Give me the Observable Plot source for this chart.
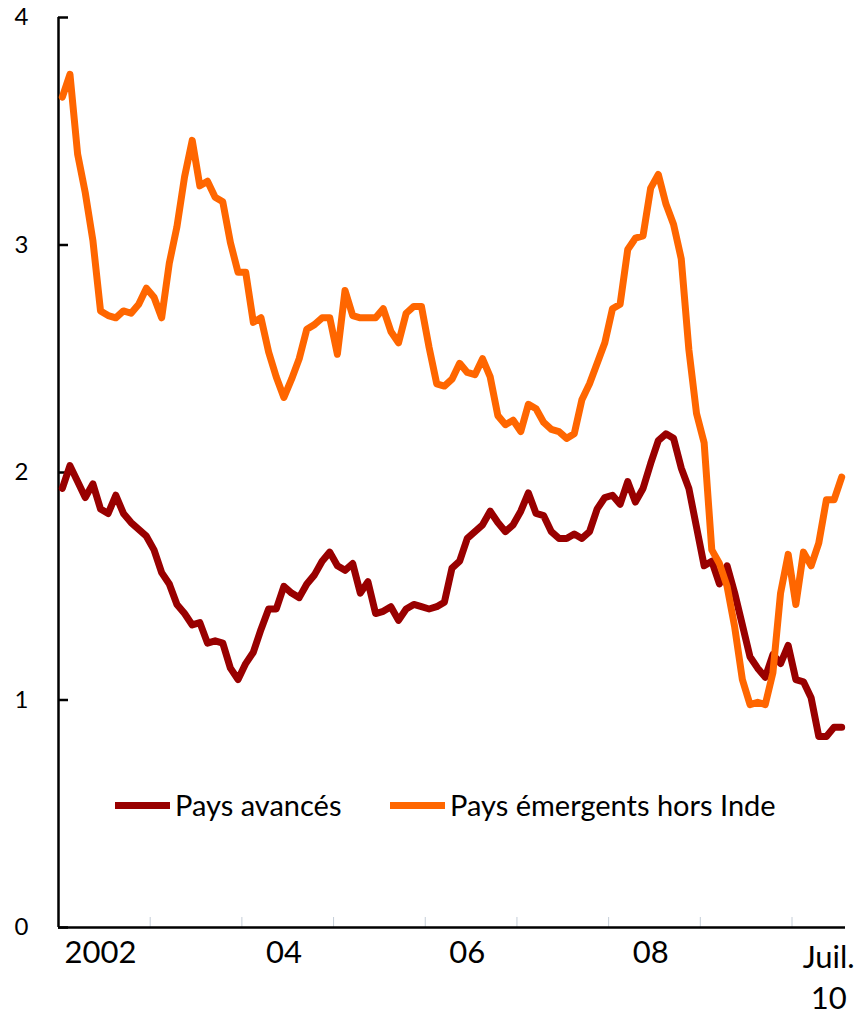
<!DOCTYPE html>
<html>
<head>
<meta charset="utf-8">
<script src="https://cdn.jsdelivr.net/npm/d3@7"></script>
<script src="https://cdn.jsdelivr.net/npm/@observablehq/plot@0.6"></script>
<style>
  html, body { margin: 0; padding: 0; background: #fff; }
  #wrap { position: relative; width: 861px; height: 1015px; font-family: Lato, "Open Sans", sans-serif; }
  #legend { position: absolute; left: 0; top: 0; width: 861px; height: 1015px; pointer-events: none; }
  .item { position: absolute; top: 787px; display: flex; align-items: center; font-size: 29px; line-height: 36px; color: #000; white-space: nowrap; }
  .swatch { display: inline-block; width: 55px; height: 7px; margin-right: 5px; }
</style>
</head>
<body>
<div id="wrap"><div id="legend"></div></div>
<script>
// Monthly series, Jan 2002 – Jul 2010 (103 months)
const startYear = 2002;
const seriesNames = ["Pays avancés", "Pays émergents hors Inde"];
const seriesColors = ["#990000", "#ff6600"];

const paysAvances = [
  1.93, 2.03, 1.96, 1.89, 1.95, 1.84, 1.82, 1.90, 1.82, 1.78, 1.75, 1.72,
  1.66, 1.56, 1.51, 1.42, 1.38, 1.33, 1.34, 1.25, 1.26, 1.25, 1.14, 1.09,
  1.16, 1.21, 1.31, 1.40, 1.40, 1.50, 1.47, 1.45, 1.51, 1.55, 1.61, 1.65,
  1.59, 1.57, 1.60, 1.47, 1.52, 1.38, 1.39, 1.41, 1.35, 1.40, 1.42, 1.41,
  1.40, 1.41, 1.43, 1.58, 1.61, 1.71, 1.74, 1.77, 1.83, 1.78, 1.74, 1.77,
  1.83, 1.91, 1.82, 1.81, 1.74, 1.71, 1.71, 1.73, 1.71, 1.74, 1.84, 1.89,
  1.90, 1.86, 1.96, 1.87, 1.93, 2.04, 2.14, 2.17, 2.15, 2.02, 1.93, 1.76,
  1.59, 1.61, 1.51, 1.59, 1.47, 1.33, 1.19, 1.14, 1.10, 1.20, 1.16, 1.24,
  1.09, 1.08, 1.01, 0.84, 0.84, 0.88, 0.88
];
const paysEmergents = [
  3.65, 3.75, 3.40, 3.23, 3.02, 2.71, 2.69, 2.68, 2.71, 2.70, 2.74, 2.81,
  2.77, 2.68, 2.92, 3.08, 3.30, 3.46, 3.26, 3.28, 3.21, 3.19, 3.01, 2.88,
  2.88, 2.66, 2.68, 2.53, 2.42, 2.33, 2.41, 2.50, 2.63, 2.65, 2.68, 2.68,
  2.52, 2.80, 2.69, 2.68, 2.68, 2.68, 2.72, 2.62, 2.57, 2.70, 2.73, 2.73,
  2.55, 2.39, 2.38, 2.41, 2.48, 2.44, 2.43, 2.50, 2.42, 2.25, 2.21, 2.23,
  2.18, 2.30, 2.28, 2.22, 2.19, 2.18, 2.15, 2.17, 2.32, 2.39, 2.48, 2.57,
  2.72, 2.74, 2.98, 3.03, 3.04, 3.25, 3.31, 3.18, 3.09, 2.94, 2.54, 2.26,
  2.13, 1.66, 1.60, 1.50, 1.32, 1.09, 0.98, 0.99, 0.98, 1.12, 1.47, 1.64,
  1.42, 1.65, 1.59, 1.69, 1.88, 1.88, 1.98
];
const yTicks = [0, 1, 2, 3, 4];
const xLabelMonths = [5, 29, 53, 77];           // month indices carrying a year label
const xLabels = ["2002", "04", "06", "08"];
const lastLabelMonth = 102;
const lastLabel = "Juil.\n10";
const yearBoundaries = [2003, 2004, 2005, 2006, 2007, 2008, 2009, 2010];

const nMonths = paysAvances.length;
const monthPos = i => startYear + (i + 0.5) / 12;

const rows = [];
[paysAvances, paysEmergents].forEach((vals, s) => {
  vals.forEach((v, i) => rows.push({series: seriesNames[s], x: monthPos(i), y: v}));
});

const chart = Plot.plot({
  width: 861,
  height: 1015,
  marginLeft: 58,
  marginRight: 16,
  marginTop: 17,
  marginBottom: 88,
  style: {fontFamily: "Lato, 'Open Sans', sans-serif", color: "#000", background: "#fff"},
  x: {domain: [startYear, startYear + nMonths / 12], label: null},
  y: {domain: [0, 4], label: null},
  color: {domain: seriesNames, range: seriesColors},
  marks: [
    // minor year-boundary ticks
    Plot.axisX({ticks: yearBoundaries, tickSize: -10, tickFormat: () => "", stroke: "#c5ced8", strokeWidth: 1, label: null}),
    // category labels
    Plot.axisX({ticks: xLabelMonths.map(monthPos), tickSize: 0, tickPadding: 13,
      tickFormat: (d, i) => xLabels[i], fontSize: 31, label: null}),
    Plot.axisX({ticks: [monthPos(lastLabelMonth)], tickSize: 0, tickPadding: 11, dx: -13,
      tickFormat: () => lastLabel, fontSize: 31, lineHeight: 1.33, label: null}),
    Plot.axisY({ticks: yTicks, tickSize: -10, tickPadding: 40, fontSize: 24, strokeWidth: 2.5,
      tickFormat: d3.format("d"), label: null}),
    Plot.ruleX([startYear], {stroke: "#000", strokeWidth: 2.5}),
    Plot.ruleY([0], {stroke: "#000", strokeWidth: 2.5}),
    Plot.line(rows, {x: "x", y: "y", z: "series", stroke: "series", strokeWidth: 7,
      strokeLinejoin: "round", strokeLinecap: "round", curve: "linear"})
  ]
});
const wrap = document.getElementById("wrap");
wrap.insertBefore(chart, wrap.firstChild);

// Legend (overlaid inside the plot area, as in the original)
const legend = document.getElementById("legend");
const legendLeft = [115, 390];
seriesNames.forEach((name, i) => {
  const item = document.createElement("div");
  item.className = "item";
  item.style.left = legendLeft[i] + "px";
  const sw = document.createElement("span");
  sw.className = "swatch";
  sw.style.background = seriesColors[i];
  item.appendChild(sw);
  item.appendChild(document.createTextNode(name));
  legend.appendChild(item);
});
</script>
</body>
</html>
